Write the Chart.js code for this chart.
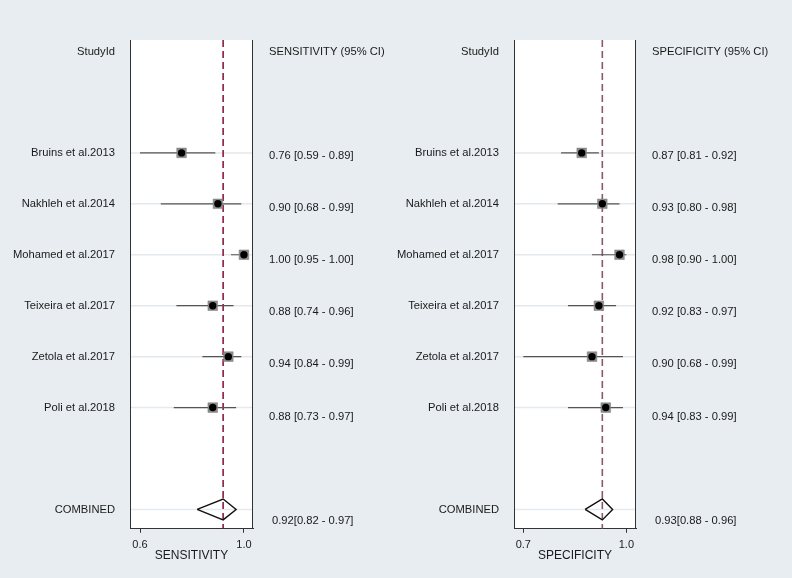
<!DOCTYPE html>
<html>
<head>
<meta charset="utf-8">
<script src="https://cdn.jsdelivr.net/npm/chart.js@4.4.1/dist/chart.umd.min.js"></script>
<style>
  html, body { margin: 0; padding: 0; background: #e7edf0; }
  #wrap { position: relative; width: 792px; height: 578px; }
  canvas { position: absolute; top: 0; }
</style>
</head>
<body>
<div id="wrap">
  <canvas id="sensChart" width="396" height="578" style="left:0"></canvas>
  <canvas id="specChart" width="396" height="578" style="left:396px"></canvas>
</div>
<script>
const studies = ['Bruins et al.2013', 'Nakhleh et al.2014', 'Mohamed et al.2017',
  'Teixeira et al.2017', 'Zetola et al.2017', 'Poli et al.2018'];

const sens = [0.76, 0.90, 1.00, 0.88, 0.94, 0.88];
const sensLo = [0.59, 0.68, 0.95, 0.74, 0.84, 0.73];
const sensHi = [0.89, 0.99, 1.00, 0.96, 0.99, 0.97];
const sensPooled = [0.92, 0.82, 0.97];   // estimate, lower, upper

const spec = [0.87, 0.93, 0.98, 0.92, 0.90, 0.94];
const specLo = [0.81, 0.80, 0.90, 0.83, 0.68, 0.83];
const specHi = [0.92, 0.98, 1.00, 0.97, 0.99, 0.99];
const specPooled = [0.93, 0.88, 0.96];

const sensTicks = [0.6, 1.0];
const specTicks = [0.7, 1.0];

// row positions: header on row 0, studies from row 2, combined on row 9
const firstRow = 2;
const combinedRow = 9;
const fontFam = "'Liberation Sans', Arial, sans-serif";

function fmt(v) { return v.toFixed(2); }

function makePanel(id, cfg) {
  const rows = studies.map((s, i) => firstRow + i);
  const datasets = [];

  // CI lines, clipped at the lowest tick like Stata does
  cfg.est.forEach((v, i) => {
    datasets.push({
      type: 'line',
      data: [{ x: Math.max(cfg.lo[i], cfg.ticks[0]), y: rows[i] }, { x: cfg.hi[i], y: rows[i] }],
      borderColor: '#555', borderWidth: 1.2, pointRadius: 0, order: 3
    });
  });

  // pooled estimate reference line
  datasets.push({
    type: 'line',
    data: [{ x: cfg.pooled[0], y: cfg.yMin }, { x: cfg.pooled[0], y: cfg.yMax }],
    borderColor: cfg.refColor, borderWidth: 1.6, borderDash: [7, 4], pointRadius: 0, order: 4
  });

  // combined diamond
  const p = cfg.pooled, h = 0.205;
  datasets.push({
    type: 'line',
    data: [{ x: p[1], y: combinedRow }, { x: p[0], y: combinedRow - h }, { x: p[2], y: combinedRow },
      { x: p[0], y: combinedRow + h }, { x: p[1], y: combinedRow }],
    borderColor: '#111', borderWidth: 1.4, pointRadius: 0, tension: 0, order: 2
  });

  // grey weight squares
  datasets.push({
    type: 'scatter',
    data: cfg.est.map((v, i) => ({ x: v, y: rows[i] })),
    pointStyle: 'rect', pointRadius: 6.8, backgroundColor: '#8c8c8c', borderColor: '#7a7a7a',
    borderWidth: 0.5, order: 1
  });
  // point estimates
  datasets.push({
    type: 'scatter',
    data: cfg.est.map((v, i) => ({ x: v, y: rows[i] })),
    pointStyle: 'circle', pointRadius: 3.7, backgroundColor: '#000', borderColor: '#000',
    borderWidth: 0, order: 0
  });

  const decor = {
    id: 'decor',
    beforeDraw(chart) {
      const { ctx, chartArea: a, scales: { y } } = chart;
      ctx.save();
      ctx.fillStyle = '#ffffff';
      ctx.fillRect(a.left, a.top, a.right - a.left, a.bottom - a.top);
      ctx.strokeStyle = '#e3e9ed';
      ctx.lineWidth = 1.5;
      rows.concat([combinedRow]).forEach(r => {
        const py = y.getPixelForValue(r);
        ctx.beginPath(); ctx.moveTo(a.left, py); ctx.lineTo(a.right, py); ctx.stroke();
      });
      ctx.restore();
    },
    afterDraw(chart) {
      const { ctx, chartArea: a, scales: { y } } = chart;
      ctx.save();
      ctx.strokeStyle = '#333';
      ctx.lineWidth = 1;
      ctx.beginPath();
      ctx.moveTo(a.left + 0.5, a.top); ctx.lineTo(a.left + 0.5, a.bottom);
      ctx.moveTo(a.right - 0.5, a.top); ctx.lineTo(a.right - 0.5, a.bottom);
      ctx.stroke();

      ctx.fillStyle = '#1a1a1a';
      ctx.textBaseline = 'middle';
      // axis title
      ctx.textAlign = 'center';
      ctx.font = '12px ' + fontFam;
      ctx.fillText(cfg.title, (a.left + a.right) / 2, a.bottom + 27);

      ctx.font = '11.2px ' + fontFam;
      // left labels
      ctx.textAlign = 'right';
      const lx = a.left - 15;
      ctx.fillText('StudyId', lx, y.getPixelForValue(0) + 0.5);
      studies.forEach((s, i) => ctx.fillText(s, lx, y.getPixelForValue(rows[i])));
      ctx.fillText('COMBINED', lx, y.getPixelForValue(combinedRow));
      // right value column (rows drift slightly lower than the marks)
      ctx.textAlign = 'left';
      const rx = a.right + 16;
      const ty = r => y.getPixelForValue(r) + 0.5 + r * 1.2;
      ctx.fillText(cfg.header, rx, y.getPixelForValue(0) + 0.5);
      cfg.est.forEach((v, i) => {
        ctx.fillText(fmt(v) + ' [' + fmt(cfg.lo[i]) + ' - ' + fmt(cfg.hi[i]) + ']', rx, ty(rows[i]));
      });
      ctx.fillText(fmt(p[0]) + '[' + fmt(p[1]) + ' - ' + fmt(p[2]) + ']', rx + 3, ty(combinedRow));
      ctx.restore();
    }
  };

  return new Chart(document.getElementById(id), {
    data: { datasets },
    options: {
      responsive: false,
      animation: false,
      layout: { padding: { left: cfg.padL, right: cfg.padR, top: 40, bottom: 20 } },
      plugins: { legend: { display: false }, tooltip: { enabled: false } },
      scales: {
        x: {
          type: 'linear', min: cfg.xMin, max: cfg.xMax,
          afterBuildTicks: ax => { ax.ticks = cfg.ticks.map(v => ({ value: v })); },
          ticks: { callback: v => v.toFixed(1), color: '#222', padding: 6, font: { size: 11, family: fontFam } },
          grid: { drawOnChartArea: false, tickLength: 4, color: '#333' },
          border: { display: true, color: '#333', width: 1 },
          title: { display: false }
        },
        y: { type: 'linear', display: false, reverse: true, min: cfg.yMin, max: cfg.yMax }
      }
    },
    plugins: [decor]
  });
}

makePanel('sensChart', {
  est: sens, lo: sensLo, hi: sensHi, pooled: sensPooled, ticks: sensTicks,
  xMin: 0.5615, xMax: 1.035, yMin: -0.216, yMax: 9.38,
  padL: 130, padR: 143, title: 'SENSITIVITY', header: 'SENSITIVITY (95% CI)', refColor: '#8a1c3c'
});

makePanel('specChart', {
  est: spec, lo: specLo, hi: specHi, pooled: specPooled, ticks: specTicks,
  xMin: 0.673, xMax: 1.028, yMin: -0.216, yMax: 9.38,
  padL: 118, padR: 156, title: 'SPECIFICITY', header: 'SPECIFICITY (95% CI)', refColor: '#8c5570'
});
</script>
</body>
</html>
